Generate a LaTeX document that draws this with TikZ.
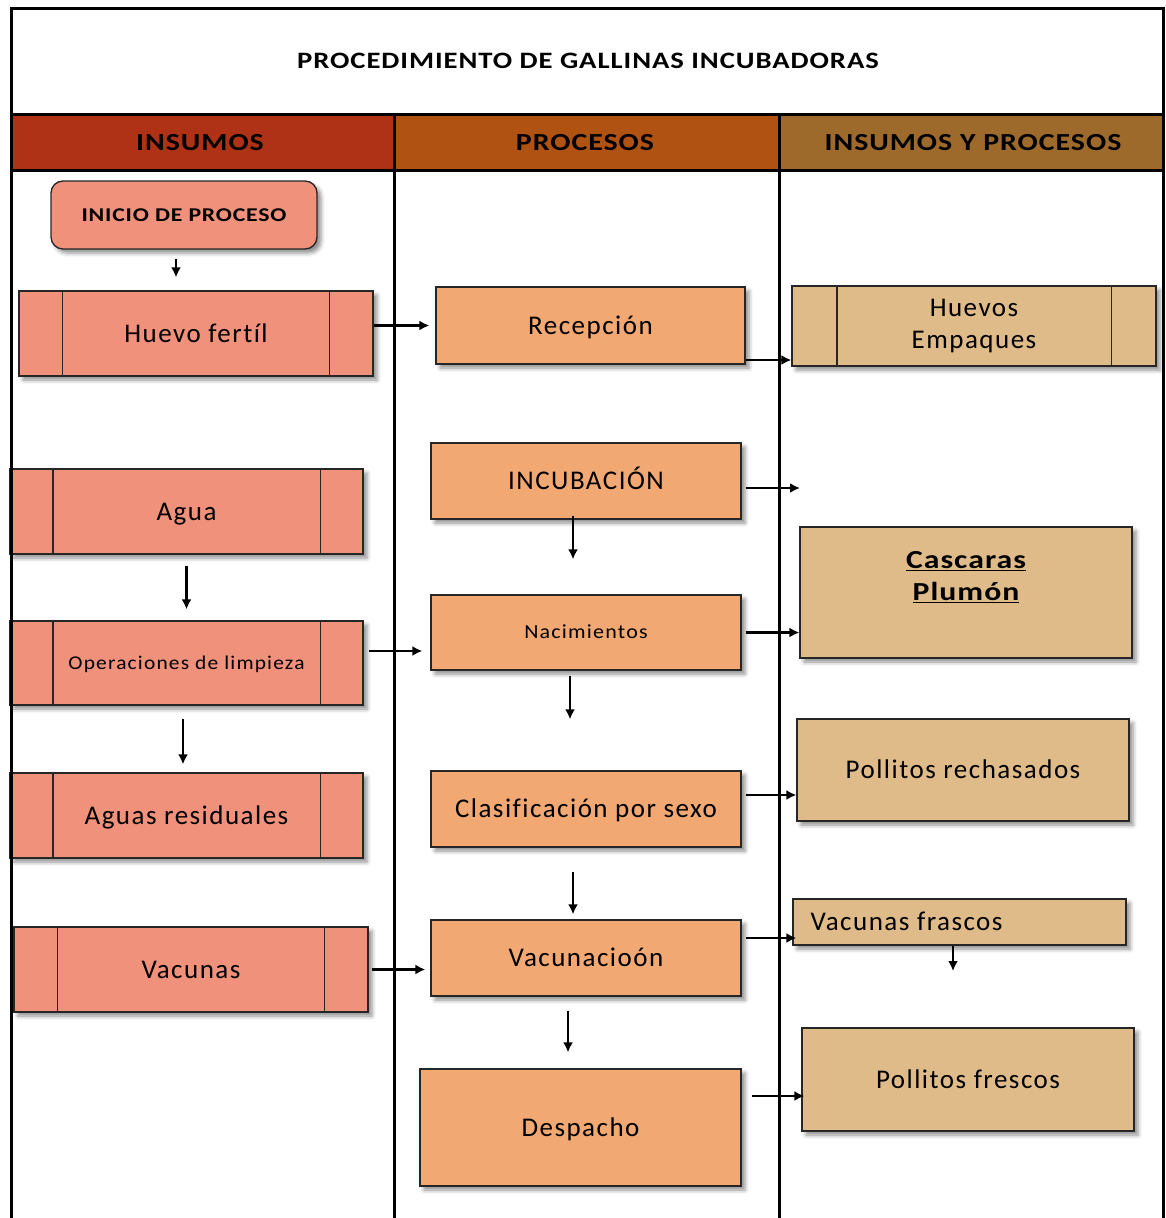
\documentclass[tikz,border=0pt]{standalone}
\usepackage{fontspec}
\setmainfont{Carlito}[Ligatures=NoCommon,LetterSpace=5.5,BoldFeatures={FakeStretch=1.22,LetterSpace=4}]
\newfontfamily\smallwide{Carlito}[Ligatures=NoCommon,FakeStretch=1.1,LetterSpace=6]
\usetikzlibrary{arrows.meta,shadows.blur}

\definecolor{hdrA}{HTML}{B03216}
\definecolor{hdrB}{HTML}{B05212}
\definecolor{hdrC}{HTML}{9E6A2C}
\definecolor{salmon}{HTML}{F0917C}
\definecolor{orangeb}{HTML}{F2A872}
\definecolor{tanb}{HTML}{E0BB8A}

% side bars of a "predefined process" box
\newcommand\ppbars[2]{%
  \draw[barline] ([xshift=#2]#1.north west) -- ([xshift=#2]#1.south west)
                 ([xshift=-#2]#1.north east) -- ([xshift=-#2]#1.south east);}

\begin{document}
\begin{tikzpicture}[x=1pt,y=-1pt,
  frameline/.style={line width=3pt,black},
  barline/.style={line width=1.3pt,black!85},
  sz/.style 2 args={minimum width=#1pt,minimum height=#2pt},
  boxbase/.style={draw=black!85,line width=1.3pt,inner sep=0pt,align=center,
    blur shadow={shadow xshift=4pt,shadow yshift=-4pt,shadow blur radius=4pt,shadow opacity=45},
    font=\fontsize{27}{32}\selectfont},
  oneline/.style={text height=23pt,text depth=6pt},
  smalltext/.style={text height=18pt,text depth=5.6pt},
  insumo/.style={boxbase,oneline,fill=salmon},
  proceso/.style={boxbase,oneline,fill=orangeb},
  salida/.style={boxbase,oneline,fill=tanb},
  hdrtext/.style={font=\bfseries\fontsize{24.5}{28}\selectfont},
  arr/.style={line width=2.4pt,-{Latex[length=10pt,width=10pt]}},
]
\useasboundingbox (0,0) rectangle (1165,1218);

% header band
\fill[hdrA] (11,114) rectangle (394,170);
\fill[hdrB] (394,114) rectangle (779,170);
\fill[hdrC] (779,114) rectangle (1163,170);
\node[font=\bfseries\fontsize{23.5}{28}\selectfont] (title) at (588,61) {PROCEDIMIENTO DE GALLINAS INCUBADORAS};
\node[hdrtext] (h1) at (200,143) {INSUMOS};
\node[hdrtext] (h2) at (585,143) {PROCESOS};
\node[hdrtext] (h3) at (973,143) {INSUMOS Y PROCESOS};

% inputs column
\node[insumo,smalltext,sz={266}{68},rounded corners=12pt,font=\bfseries\fontsize{19.5}{24}\selectfont] (inicio) at (184,215) {INICIO DE PROCESO};
\node[insumo,sz={354}{85}] (huevo) at (196,333.5) {Huevo fertíl};
\node[insumo,sz={353}{85}] (agua) at (186.5,511.5) {Agua};
\node[insumo,smalltext,sz={353}{84},font=\smallwide\fontsize{19.5}{24}\selectfont] (oper) at (186.5,663) {Operaciones de limpieza};
\node[insumo,sz={353}{85}] (aguasres) at (186.5,815.5) {Aguas residuales};
\node[insumo,sz={354}{85}] (vacunas) at (191,969.5) {Vacunas};
\ppbars{huevo}{44pt}
\ppbars{agua}{43.5pt}
\ppbars{oper}{43.5pt}
\ppbars{aguasres}{43.5pt}
\ppbars{vacunas}{44pt}

% process column
\node[proceso,sz={309}{77}] (recep) at (590.5,325.5) {Recepción};
\node[proceso,sz={310}{76}] (incub) at (586,481) {INCUBACIÓN};
\node[proceso,smalltext,sz={310}{75},font=\smallwide\fontsize{20}{24}\selectfont] (nac) at (586,632.5) {Nacimientos};
\node[proceso,sz={310}{76}] (clas) at (586,809) {Clasificación por sexo};
\node[proceso,sz={310}{76}] (vacun) at (586,958) {Vacunacioón};
\node[proceso,sz={321}{117}] (desp) at (580.5,1127.5) {Despacho};

% outputs column
\node[boxbase,fill=tanb,sz={364}{80}] (huevos) at (974,326) {Huevos\\Empaques};
\ppbars{huevos}{45.5pt}
\node[salida,sz={332}{131}] (casc) at (966,592.5) {};
\node[font=\bfseries\fontsize{26}{32}\selectfont,align=center] (casctext) at (966,577) {\underline{Cascaras}\\\underline{Plumón}};
\node[salida,sz={332}{102}] (pollrech) at (963,770) {Pollitos rechasados};
\node[salida,sz={333}{46}] (vacfras) at (959.5,922) {};
\node[font=\fontsize{27}{32}\selectfont,anchor=west] (vacfrastext) at (807,921) {Vacunas frascos};
\node[salida,sz={332}{103}] (pollfres) at (968,1079.5) {Pollitos frescos};

% free arrow ends
\coordinate (incubout) at (800,488);
\coordinate (vfout) at (953,971);

% connectors
\draw[arr] ([xshift=-8pt,yshift=-9pt]inicio.south) -- ([xshift=-20pt,yshift=13pt]huevo.north);
\draw[arr,shorten >=6pt] (huevo.east |- recep.west) -- (recep.west);
\draw[arr] ([yshift=-34.5pt]recep.east) coordinate (r1) -- (r1 -| huevos.west);
\draw[arr] ([xshift=4pt]incub.east |- incubout) -- (incubout);
\draw[arr] ([xshift=-13pt,yshift=4pt]incub.south) -- ([xshift=-13pt,yshift=35pt]nac.north);
\draw[arr] ([xshift=4pt]nac.east) -- (nac.east -| casc.west);
\draw[arr] ([xshift=-16pt,yshift=-5pt]nac.south) -- ([xshift=-16pt,yshift=51pt]clas.north);
\draw[arr] ([xshift=4pt,yshift=14pt]clas.east) coordinate (c1) -- (c1 -| pollrech.west);
\draw[arr] ([xshift=-13pt,yshift=-24pt]clas.south) -- ([xshift=-13pt,yshift=5pt]vacun.north);
\draw[arr,shorten >=-4pt] ([xshift=4pt,yshift=20pt]vacun.east) coordinate (v1) -- (v1 -| vacfras.west);
\draw[arr] (vfout |- vacfras.south) -- (vfout);
\draw[arr] ([xshift=-18pt,yshift=-14pt]vacun.south) -- ([xshift=-12.5pt,yshift=16pt]desp.north);
\draw[arr,shorten >=-3pt] ([xshift=10pt,yshift=31.5pt]desp.east) coordinate (d1) -- (d1 -| pollfres.west);
\draw[arr] ([yshift=-11pt]agua.south) -- ([yshift=11pt]oper.north);
\draw[arr,shorten >=8pt] ([xshift=5pt,yshift=12pt]oper.east) coordinate (o1) -- (o1 -| nac.west);
\draw[arr] ([xshift=-3.5pt,yshift=-13pt]oper.south) -- ([xshift=-3.5pt,yshift=8pt]aguasres.north);
\draw[arr,shorten >=5pt] ([xshift=3pt]vacunas.east) coordinate (w1) -- (w1 -| vacun.west);

% table frame
\draw[frameline] (11,1218) -- (11,8) -- (1163.5,8) -- (1163.5,1218);
\draw[frameline] (11,114) -- (1163.5,114);
\draw[frameline] (11,170) -- (1163.5,170);
\draw[frameline] (394,114) -- (394,1218);
\draw[frameline] (779,114) -- (779,1218);
\end{tikzpicture}
\end{document}
